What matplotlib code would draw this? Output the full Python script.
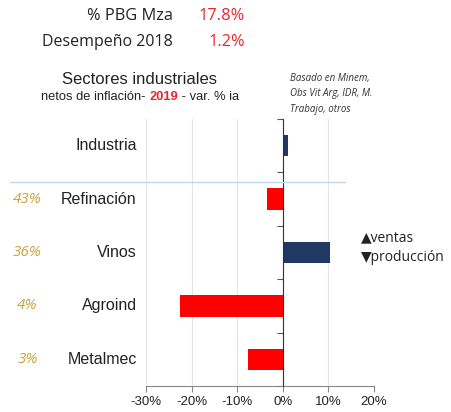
import numpy as np
import matplotlib
matplotlib.use("Agg")
from matplotlib import pyplot as plt
from matplotlib.lines import Line2D
from matplotlib.ticker import PercentFormatter

sectors = ["Industria", "Refinación", "Vinos", "Agroind", "Metalmec"]
values = [1.1, -3.5, 10.3, -22.5, -7.6]
shares = ["", "43%", "36%", "4%", "3%"]
bar_colors = ["#1F3864", "#FF0000", "#1F3864", "#FF0000", "#FF0000"]
xticks = [-30, -20, -10, 0, 10, 20]

plt.rcParams["font.family"] = ["Liberation Sans", "DejaVu Sans"]
plt.rcParams["axes.unicode_minus"] = False

fig = plt.figure(figsize=(4.51, 4.12), dpi=100)
ax = fig.add_axes([0.3237, 0.0631, 0.5056, 0.6481])

y = np.arange(len(sectors))
ax.barh(y, values, height=0.4, color=bar_colors, zorder=3)
ax.set_ylim(len(sectors) - 0.5, -0.5)
ax.set_xlim(-30, 20)
ax.set_xticks(xticks)
ax.xaxis.set_major_formatter(PercentFormatter(decimals=0))
ax.tick_params(axis="x", labelsize=9.5, length=4, width=0.8, color="#888888", pad=3, labelcolor="#222222")
ax.grid(axis="x", color="#E4E4E4", lw=0.8, zorder=0)

for s in ["top", "right"]:
    ax.spines[s].set_visible(False)
ax.spines["bottom"].set_color("#888888")
ax.spines["left"].set_position(("data", 0))
ax.spines["left"].set_color("#333333")
ax.spines["left"].set_zorder(4)
ax.set_yticks(np.arange(len(sectors) + 1) - 0.5)
ax.set_yticklabels([])
ax.tick_params(axis="y", length=4, width=0.8, color="#555555")

trans = ax.get_yaxis_transform()
for yi, name, sh in zip(y, sectors, shares):
    ax.text(-0.04, yi, name, transform=trans, ha="right", va="center", fontsize=11.5, color="#222222")
    if sh:
        fig.text(0.061, 1 - (146 + 53.3 * yi) / 412, sh, ha="center", va="center",
                 fontsize=11, style="italic", color="#C9A23E", family=["Open Sans", "DejaVu Sans"])

# separator line below the total
fig.add_artist(Line2D([0.022, 0.765], [0.558, 0.558], color="#BDD7EE", lw=1))

# header
top_font = ["Open Sans", "DejaVu Sans"]
fig.text(0.384, 0.960, "% PBG Mza", ha="right", va="center", fontsize=11.8, family=top_font, color="#222222")
fig.text(0.543, 0.960, "17.8%", ha="right", va="center", fontsize=11.8, family=top_font, color="#E8262B")
fig.text(0.384, 0.899, "Desempeño 2018", ha="right", va="center", fontsize=11.5, family=top_font, color="#222222")
fig.text(0.543, 0.899, "1.2%", ha="right", va="center", fontsize=11.8, family=top_font, color="#E8262B")

fig.text(0.31, 0.806, "Sectores industriales", ha="center", va="center", fontsize=12, color="#222222")
t1 = fig.text(0.091, 0.758, "netos de inflación- ", ha="left", va="baseline", fontsize=9.3, color="#222222")
t2 = fig.text(0, 0, "2019", ha="left", va="baseline", fontsize=9.3, color="#E8262B", weight="bold")
t3 = fig.text(0, 0, " - var. % ia", ha="left", va="baseline", fontsize=9.3, color="#222222")
fig.canvas.draw()
r = fig.canvas.get_renderer()
bb1 = t1.get_window_extent(r).transformed(fig.transFigure.inverted())
t2.set_position((bb1.x1, 0.758))
bb2 = t2.get_window_extent(r).transformed(fig.transFigure.inverted())
t3.set_position((bb2.x1, 0.758))

fig.text(0.643, 0.772, "Basado en Minem,\nObs Vit Arg, IDR, M.\nTrabajo, otros", ha="left", va="center",
         fontsize=7, style="italic", linespacing=1.55, color="#333333", family=top_font)

fig.text(0.80, 0.422, "▲ventas", ha="left", va="center", fontsize=10, family=top_font, color="#222222")
fig.text(0.80, 0.374, "▼producción", ha="left", va="center", fontsize=10, family=top_font, color="#222222")

fig.savefig("out.png", dpi=100)
